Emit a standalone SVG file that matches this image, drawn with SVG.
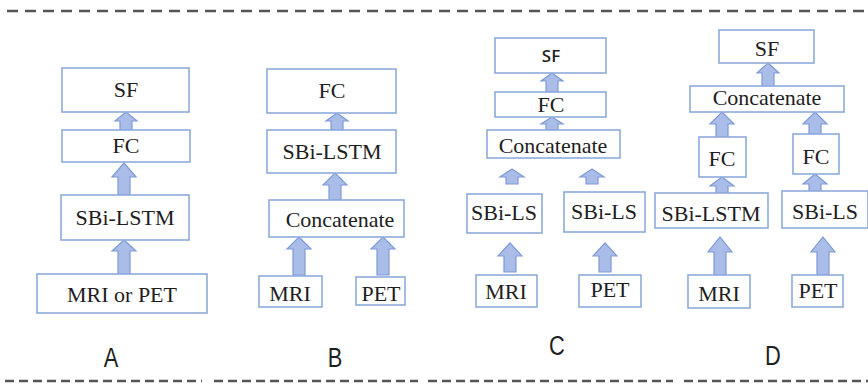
<svg xmlns="http://www.w3.org/2000/svg" width="868" height="389" viewBox="0 0 868 389">
  <style>
    .box { fill: #ffffff; stroke: #8eaadb; stroke-width: 1.6; }
    .t { font-family: 'Liberation Serif', 'Times New Roman', 'DejaVu Serif', serif; font-size: 22px; fill: #1e1e1e; text-anchor: middle; }
    .ts { font-family: 'Open Sans', 'Liberation Sans', Arial, sans-serif; font-size: 17px; font-weight: 600; fill: #1e1e1e; text-anchor: middle; }
    .lbl { font-family: 'Liberation Sans', Arial, sans-serif; font-size: 28px; fill: #1e1e1e; text-anchor: middle; }
    .arr { fill: #a9bde8; stroke: #7e9ad6; stroke-width: 1.2; stroke-linejoin: miter; }
    .dash { stroke: #555555; stroke-width: 2.6; fill: none; }
  </style>

  <!-- separators -->
  <line class="dash" x1="7" y1="11" x2="868" y2="11" stroke-dasharray="11 7"/>
  <line class="dash" x1="5" y1="381" x2="202" y2="381" stroke-dasharray="9 5"/>
  <line class="dash" x1="214" y1="381" x2="418" y2="381" stroke-dasharray="9 5"/>
  <line class="dash" x1="428" y1="381" x2="673" y2="381" stroke-dasharray="9 5"/>
  <line class="dash" x1="684" y1="381" x2="868" y2="381" stroke-dasharray="9 5"/>

  <!-- connectors: block up-arrows -->
  <g id="connectors">
    <!-- A -->
    <path class="arr" d="M126,112 L137,121 L132,121 L132,130 L120,130 L120,121 L115,121 Z"/>
    <path class="arr" d="M124,163 L136,177 L130,177 L130,195 L118,195 L118,177 L112,177 Z"/>
    <path class="arr" d="M124,240 L136,251 L130,251 L130,274 L118,274 L118,251 L112,251 Z"/>
    <!-- B -->
    <path class="arr" d="M337,113 L348,121 L343,121 L343,130 L331,130 L331,121 L326,121 Z"/>
    <path class="arr" d="M335,173 L347,185 L341,185 L341,200 L329,200 L329,185 L323,185 Z"/>
    <path class="arr" d="M299,237 L311,249 L305,249 L305,275 L293,275 L293,249 L287,249 Z"/>
    <path class="arr" d="M383,237 L395,249 L389,249 L389,275 L377,275 L377,249 L371,249 Z"/>
    <!-- C -->
    <path class="arr" d="M552,73 L563,81 L558,81 L558,92 L546,92 L546,81 L541,81 Z"/>
    <path class="arr" d="M552,117 L563,124 L558,124 L558,130 L546,130 L546,124 L541,124 Z"/>
    <path class="arr" d="M512,169 L524,177 L518,177 L518,184 L506,184 L506,177 L500,177 Z"/>
    <path class="arr" d="M592,169 L604,177 L598,177 L598,184 L586,184 L586,177 L580,177 Z"/>
    <path class="arr" d="M510,243 L522,256 L516,256 L516,272 L504,272 L504,256 L498,256 Z"/>
    <path class="arr" d="M605,243 L617,256 L611,256 L611,272 L599,272 L599,256 L593,256 Z"/>
    <!-- D -->
    <path class="arr" d="M768,63 L779,73 L774,73 L774,86 L762,86 L762,73 L757,73 Z"/>
    <path class="arr" d="M722,112 L734,124 L728,124 L728,137 L716,137 L716,124 L710,124 Z"/>
    <path class="arr" d="M815,112 L827,124 L821,124 L821,134 L809,134 L809,124 L803,124 Z"/>
    <path class="arr" d="M722,177 L734,186 L728,186 L728,193 L716,193 L716,186 L710,186 Z"/>
    <path class="arr" d="M815,174 L827,184 L821,184 L821,191 L809,191 L809,184 L803,184 Z"/>
    <path class="arr" d="M720,237 L732,252 L726,252 L726,275 L714,275 L714,252 L708,252 Z"/>
    <path class="arr" d="M823,237 L835,252 L829,252 L829,275 L817,275 L817,252 L811,252 Z"/>
  </g>

  <!-- A: single modality -->
  <g id="a-sf"><rect class="box" x="62" y="68" width="127" height="44"/><text class="t" x="126" y="97">SF</text></g>
  <g id="a-fc"><rect class="box" x="62" y="130" width="128" height="32"/><text class="t" x="126" y="153">FC</text></g>
  <g id="a-sbi"><rect class="box" x="61" y="195" width="128" height="45"/><text class="t" x="125" y="225">SBi-LSTM</text></g>
  <g id="a-in"><rect class="box" x="37" y="274" width="170" height="39"/><text class="t" x="122" y="302">MRI or PET</text></g>
  <text class="lbl" transform="translate(111,367) scale(0.78,1)">A</text>

  <!-- B: early fusion -->
  <g id="b-fc"><rect class="box" x="267" y="69" width="129" height="44"/><text class="t" x="332" y="98">FC</text></g>
  <g id="b-sbi"><rect class="box" x="267" y="130" width="129" height="43"/><text class="t" x="332" y="159">SBi-LSTM</text></g>
  <g id="b-cat"><rect class="box" x="269" y="200" width="135" height="37"/><text class="t" x="340" y="227">Concatenate</text></g>
  <g id="b-mri"><rect class="box" x="259" y="276" width="63" height="31"/><text class="t" x="290" y="301">MRI</text></g>
  <g id="b-pet"><rect class="box" x="356" y="277" width="49" height="28"/><text class="t" x="381" y="301">PET</text></g>
  <text class="lbl" transform="translate(335,367) scale(0.78,1)">B</text>

  <!-- C: intermediate fusion -->
  <g id="c-sf"><rect class="box" x="495" y="38" width="111" height="35"/><text class="ts" x="551" y="62">SF</text></g>
  <g id="c-fc"><rect class="box" x="495" y="92" width="111" height="25"/><text class="t" x="551" y="112">FC</text></g>
  <g id="c-cat"><rect class="box" x="487" y="130" width="133" height="28"/><text class="t" x="553" y="153">Concatenate</text></g>
  <g id="c-sbi1"><rect class="box" x="467" y="194" width="75" height="39"/><text class="t" x="504" y="220">SBi-LS</text></g>
  <g id="c-sbi2"><rect class="box" x="564" y="192" width="81" height="40"/><text class="t" x="604" y="219">SBi-LS</text></g>
  <g id="c-mri"><rect class="box" x="476" y="275" width="61" height="32"/><text class="t" x="506" y="299">MRI</text></g>
  <g id="c-pet"><rect class="box" x="579" y="275" width="62" height="32"/><text class="t" x="610" y="297">PET</text></g>
  <text class="lbl" transform="translate(557,355) scale(0.78,1)">C</text>

  <!-- D: late fusion -->
  <g id="d-sf"><rect class="box" x="719" y="30" width="95" height="33"/><text class="t" x="767" y="56">SF</text></g>
  <g id="d-cat"><rect class="box" x="690" y="86" width="154" height="26"/><text class="t" x="767" y="105">Concatenate</text></g>
  <g id="d-fc1"><rect class="box" x="699" y="137" width="47" height="40"/><text class="t" x="722" y="166">FC</text></g>
  <g id="d-fc2"><rect class="box" x="793" y="134" width="46" height="40"/><text class="t" x="816" y="164">FC</text></g>
  <g id="d-sbi1"><rect class="box" x="655" y="193" width="113" height="35"/><text class="t" x="711" y="221">SBi-LSTM</text></g>
  <g id="d-sbi2"><rect class="box" x="782" y="191" width="86" height="37"/><text class="t" x="825" y="219">SBi-LS</text></g>
  <g id="d-mri"><rect class="box" x="688" y="275" width="62" height="33"/><text class="t" x="719" y="301">MRI</text></g>
  <g id="d-pet"><rect class="box" x="792" y="275" width="51" height="32"/><text class="t" x="818" y="298">PET</text></g>
  <text class="lbl" transform="translate(773,365) scale(0.78,1)">D</text>
</svg>
